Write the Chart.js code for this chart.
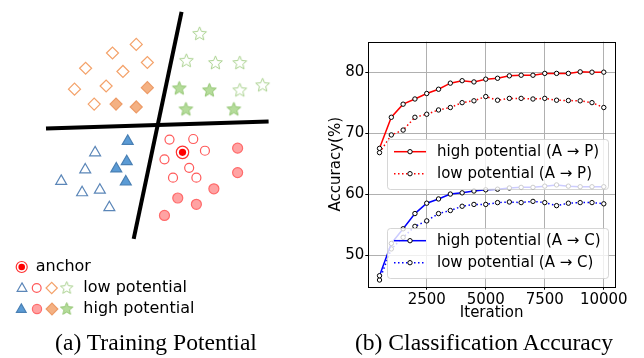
<!DOCTYPE html>
<html><head><meta charset="utf-8">
<script src="https://cdn.jsdelivr.net/npm/chart.js"></script>
<style>
html,body{margin:0;padding:0;background:#fff;width:644px;height:358px;overflow:hidden;}
#ca{position:absolute;left:0;top:0;}
#cb{position:absolute;left:320px;top:0;}
.cap{position:absolute;top:330.5px;font-family:"Liberation Serif","Times New Roman",serif;font-size:23.6px;line-height:23.6px;white-space:nowrap;transform:translateX(-50%);color:#000}
</style></head><body>
<canvas id="ca" width="320" height="330"></canvas>
<canvas id="cb" width="324" height="330"></canvas>
<div class="cap" style="left:156px">(a) Training Potential</div>
<div class="cap" style="left:484px">(b) Classification Accuracy</div>
<script>
// ---------- Panel (a): schematic scatter (diagram units) ----------
const boundaryLine1 = [[182.7, 4], [132.3, 242.7]];
const boundaryLine2 = [[40, 126.7], [274.3, 119.3]];
const diamondsLow = [[135,38.3],[110,47.3],[146.7,57.3],[81.7,63.3],[121,66.7],[70,85.3],[103.3,82],[90.7,101]];
const diamondsHigh = [[146.7,83.7],[113.7,101],[135,104]];
const starsLow = [[201.7,26.7],[187.7,55],[218.3,57.3],[244,57.3],[244,86],[268,80.7]];
const starsHigh = [[180.3,84],[212,86],[187.3,106],[237.7,106]];
const trianglesLow = [[91.7,152],[81.3,170],[56,182],[78,194],[96.7,191.3],[106.7,209.7]];
const trianglesHigh = [[126,140],[125,161.3],[114,169],[124,182.7]];
const circlesLow = [[170,138.3],[195,137.7],[207.3,150],[164.7,159],[190.7,168],[173.7,178.3],[198.3,178.3]];
const circlesHigh = [[241.7,147.3],[241.7,173],[216.7,190],[178.7,199.7],[198.3,206.3],[164.7,218]];
const anchorPoint = [[183.7,151.7]];
const legendALabels = ['anchor', 'low potential', 'high potential'];

// ---------- Panel (b): accuracy curves ----------
const iterations = [500,1000,1500,2000,2500,3000,3500,4000,4500,5000,5500,6000,6500,7000,7500,8000,8500,9000,9500,10000];
const highAP = [67.5,72.6,74.75,75.6,76.5,77.2,78.2,78.6,78.4,78.85,79.0,79.4,79.5,79.5,79.8,79.8,79.8,80.05,80.0,80.0];
const lowAP  = [66.8,69.7,70.5,72.6,73.1,73.8,74.2,75.0,75.3,76.0,75.4,75.7,75.7,75.6,75.7,75.4,75.35,75.3,75.0,74.2];
const highAC = [46.6,51.9,54.3,56.8,58.5,59.2,60.0,60.2,60.5,60.7,60.8,61.0,61.1,61.1,61.3,61.5,61.3,61.2,61.2,61.2];
const lowAC  = [45.9,51.0,52.9,54.7,55.6,56.8,57.3,58.0,58.3,58.3,58.6,58.7,58.6,58.8,58.6,58.1,58.5,58.6,58.6,58.4];
const seriesLabels = ['high potential (A \u2192 P)','low potential (A \u2192 P)','high potential (A \u2192 C)','low potential (A \u2192 C)'];
const xTicks = [2500,5000,7500,10000];
const yTicks = [50,60,70,80];

const pts = arr => arr.map(p => ({x:p[0], y:p[1]}));

function starCanvas(fill, stroke, R){
  const s = Math.ceil(R*2+4);
  const c = document.createElement('canvas');
  c.width = s; c.height = s;
  const g = c.getContext('2d');
  const cx = s/2, cy = s/2 + 0.6, r = R*0.45;
  g.beginPath();
  for (let i=0;i<10;i++){
    const a = -Math.PI/2 + i*Math.PI/5;
    const rr = i%2===0 ? R : r;
    const px = cx + rr*Math.cos(a), py = cy + rr*Math.sin(a);
    if(i===0) g.moveTo(px,py); else g.lineTo(px,py);
  }
  g.closePath();
  g.fillStyle = fill; g.fill();
  g.lineWidth = 1; g.strokeStyle = stroke; g.stroke();
  return c;
}
const starHollow = starCanvas('#ffffff', '#a9d18e', 7.2);
const starFilled = starCanvas('#b5dc9b', '#93c672', 7.2);
const starHollowS = starCanvas('#ffffff', '#a9d18e', 6.5);
const starFilledS = starCanvas('#b5dc9b', '#93c672', 6.5);

const sty = {
  diaLow:  {pointStyle:'rectRot', radius:6, bg:'#ffffff', border:'#f4a26a', bw:1.2},
  diaHigh: {pointStyle:'rectRot', radius:6, bg:'#f4b183', border:'#ed9b67', bw:1.2},
  triLow:  {pointStyle:'triangle', radius:6.3, bg:'#ffffff', border:'#5b86b8', bw:1.2},
  triHigh: {pointStyle:'triangle', radius:6.3, bg:'#5b9bd5', border:'#4a80b4', bw:1.2},
  cirLow:  {pointStyle:'circle', radius:4.5, bg:'#ffffff', border:'#ff5a5a', bw:1.2},
  cirHigh: {pointStyle:'circle', radius:5, bg:'#ffa3a3', border:'#ff6b6b', bw:1.2},
};
function scat(data, s, order){
  return {type:'scatter', data:pts(data), pointStyle:s.pointStyle, pointRadius:s.radius,
    pointBackgroundColor:s.bg, pointBorderColor:s.border, pointBorderWidth:s.bw, showLine:false, clip:false, order:order};
}
function lineDs(data){
  return {type:'line', data:pts(data), showLine:true, borderColor:'#000', borderWidth:4, pointRadius:0, clip:false, order:5, borderCapStyle:'butt'};
}

const legendAPlugin = {
  id:'legendA',
  afterDraw(chart){
    const ctx = chart.ctx;
    const dp = Chart.helpers.drawPoint;
    function sym(s, x, y, r){
      ctx.save();
      ctx.fillStyle = s.bg; ctx.strokeStyle = s.border; ctx.lineWidth = s.bw;
      dp(ctx, {pointStyle:s.pointStyle, radius:r, borderWidth:s.bw, rotation:0}, x, y);
      ctx.restore();
    }
    function img(c, x, y){ ctx.drawImage(c, x - c.width/2, y - c.height/2); }
    // anchor
    ctx.save();
    ctx.fillStyle = '#ffffff'; ctx.strokeStyle = '#ff3030'; ctx.lineWidth = 1.2;
    ctx.beginPath(); ctx.arc(21.7, 267, 5.5, 0, Math.PI*2); ctx.fill(); ctx.stroke();
    ctx.fillStyle = '#ff0000';
    ctx.beginPath(); ctx.arc(21.7, 267, 3.3, 0, Math.PI*2); ctx.fill();
    ctx.restore();
    sym(sty.triLow, 22, 288.5, 5.6); sym(sty.cirLow, 36.7, 288, 4.4); sym(sty.diaLow, 51.7, 288, 5.6); img(starHollowS, 66.7, 287.5);
    sym(sty.triHigh, 21.3, 309.5, 5.6); sym(sty.cirHigh, 37, 309, 4.6); sym(sty.diaHigh, 52, 309, 5.8); img(starFilledS, 66.7, 308.5);
    ctx.save();
    ctx.fillStyle = '#000'; ctx.font = '16px "DejaVu Sans"'; ctx.textBaseline = 'middle'; ctx.textAlign = 'left';
    ctx.fillText(legendALabels[0], 35.7, 267);
    ctx.fillText(legendALabels[1], 83.3, 288);
    ctx.fillText(legendALabels[2], 83.3, 309);
    ctx.restore();
  }
};

new Chart(document.getElementById('ca'), {
  type:'scatter',
  data:{datasets:[
    {type:'scatter', data:pts(anchorPoint), pointStyle:'circle', pointRadius:3.6, pointBackgroundColor:'#ff0000', pointBorderColor:'#ff0000', pointBorderWidth:0, clip:false, order:0},
    {type:'scatter', data:pts(anchorPoint), pointStyle:'circle', pointRadius:6.2, pointBackgroundColor:'#ffffff', pointBorderColor:'#ff3030', pointBorderWidth:1.2, clip:false, order:1},
    scat(diamondsLow, sty.diaLow, 3), scat(diamondsHigh, sty.diaHigh, 3),
    {type:'scatter', data:pts(starsLow), pointStyle:starHollow, pointRadius:7, clip:false, order:3},
    {type:'scatter', data:pts(starsHigh), pointStyle:starFilled, pointRadius:7, clip:false, order:3},
    scat(trianglesLow, sty.triLow, 3), scat(trianglesHigh, sty.triHigh, 3),
    scat(circlesLow, sty.cirLow, 3), scat(circlesHigh, sty.cirHigh, 3),
    lineDs(boundaryLine1), lineDs(boundaryLine2)
  ]},
  options:{
    responsive:false, animation:false, devicePixelRatio:1,
    layout:{padding:0},
    plugins:{legend:{display:false}, tooltip:{enabled:false}},
    scales:{
      x:{type:'linear', display:false, min:0, max:320},
      y:{type:'linear', display:false, min:0, max:330, reverse:true}
    }
  },
  plugins:[legendAPlugin]
});

// ---------- Panel (b) ----------
const font15 = {family:'DejaVu Sans', size:15};
function series(i, vals, color, dash){
  return {label:seriesLabels[i], data:iterations.map((x,k)=>({x:x, y:vals[k]})), borderColor:color, borderWidth:1.5,
    borderDash:dash, pointRadius:2.2, pointBorderWidth:1, pointBorderColor:'#000', pointBackgroundColor:'#fff', tension:0, fill:false};
}
const dsB = [
  series(0, highAP, '#ff0000', []),
  series(1, lowAP, '#ff0000', [1.5,2.5]),
  series(2, highAC, '#0000ff', []),
  series(3, lowAC, '#0000ff', [1.5,2.5])
];

const framePlugin = {
  id:'frame',
  afterDatasetsDraw(chart){
    const {ctx, chartArea:a} = chart;
    ctx.save(); ctx.strokeStyle = '#000'; ctx.lineWidth = 1;
    ctx.strokeRect(Math.round(a.left)+0.5, Math.round(a.top)+0.5, Math.round(a.right-a.left), Math.round(a.bottom-a.top));
    ctx.restore();
  }
};
const legendBoxes = [
  {x:67, y:139, w:221, h:50, items:[0,1]},
  {x:67, y:228, w:221, h:50, items:[2,3]}
];
const legendBPlugin = {
  id:'legendB',
  afterDatasetsDraw(chart){
    const ctx = chart.ctx;
    legendBoxes.forEach(b => {
      ctx.save();
      ctx.beginPath();
      if (ctx.roundRect) ctx.roundRect(b.x+0.5, b.y+0.5, b.w, b.h, 3); else ctx.rect(b.x+0.5,b.y+0.5,b.w,b.h);
      ctx.fillStyle = 'rgba(255,255,255,0.8)'; ctx.fill();
      ctx.strokeStyle = 'rgba(204,204,204,0.8)'; ctx.lineWidth = 1; ctx.stroke();
      ctx.restore();
      b.items.forEach((idx, r) => {
        const d = chart.data.datasets[idx];
        const y = b.y + 12.7 + r*22;
        ctx.save();
        ctx.strokeStyle = d.borderColor; ctx.lineWidth = d.borderWidth; ctx.setLineDash(d.borderDash);
        ctx.beginPath(); ctx.moveTo(b.x+7, y); ctx.lineTo(b.x+39, y); ctx.stroke();
        ctx.setLineDash([]);
        ctx.fillStyle = '#fff'; ctx.strokeStyle = '#000'; ctx.lineWidth = 1;
        ctx.beginPath(); ctx.arc(b.x+23, y, 2.2, 0, Math.PI*2); ctx.fill(); ctx.stroke();
        ctx.fillStyle = '#000'; ctx.font = '15px "DejaVu Sans"'; ctx.textBaseline = 'middle'; ctx.textAlign = 'left';
        ctx.fillText(d.label, b.x+50, y);
        ctx.restore();
      });
    });
  }
};

new Chart(document.getElementById('cb'), {
  type:'line',
  data:{datasets:dsB},
  options:{
    responsive:false, animation:false, devicePixelRatio:1,
    layout:{padding:{top:41.7, right:29, left:0, bottom:0}},
    plugins:{legend:{display:false}, tooltip:{enabled:false}},
    scales:{
      x:{type:'linear', min:25, max:10475,
        afterBuildTicks:s=>{ s.ticks = xTicks.map(v=>({value:v})); },
        afterFit:s=>{ s.height = 43.3; },
        grid:{color:'#b0b0b0', lineWidth:1, tickColor:'#000', tickLength:3},
        border:{display:false},
        ticks:{font:font15, color:'#000', padding:1, maxRotation:0, autoSkip:false, callback:v=>String(v)},
        title:{display:true, text:'Iteration', font:font15, color:'#000', padding:{top:0, bottom:7.5}}
      },
      y:{type:'linear', min:44.8, max:85,
        afterBuildTicks:s=>{ s.ticks = yTicks.map(v=>({value:v})); },
        afterFit:s=>{ s.width = 48.3; },
        grid:{color:'#b0b0b0', lineWidth:1, tickColor:'#000', tickLength:3},
        border:{display:false},
        ticks:{font:font15, color:'#000', padding:1, callback:v=>String(v)},
        title:{display:true, text:'Accuracy(%)', font:font15, color:'#000', padding:{top:6.7, bottom:0}}
      }
    }
  },
  plugins:[framePlugin, legendBPlugin]
});
</script>
</body></html>
